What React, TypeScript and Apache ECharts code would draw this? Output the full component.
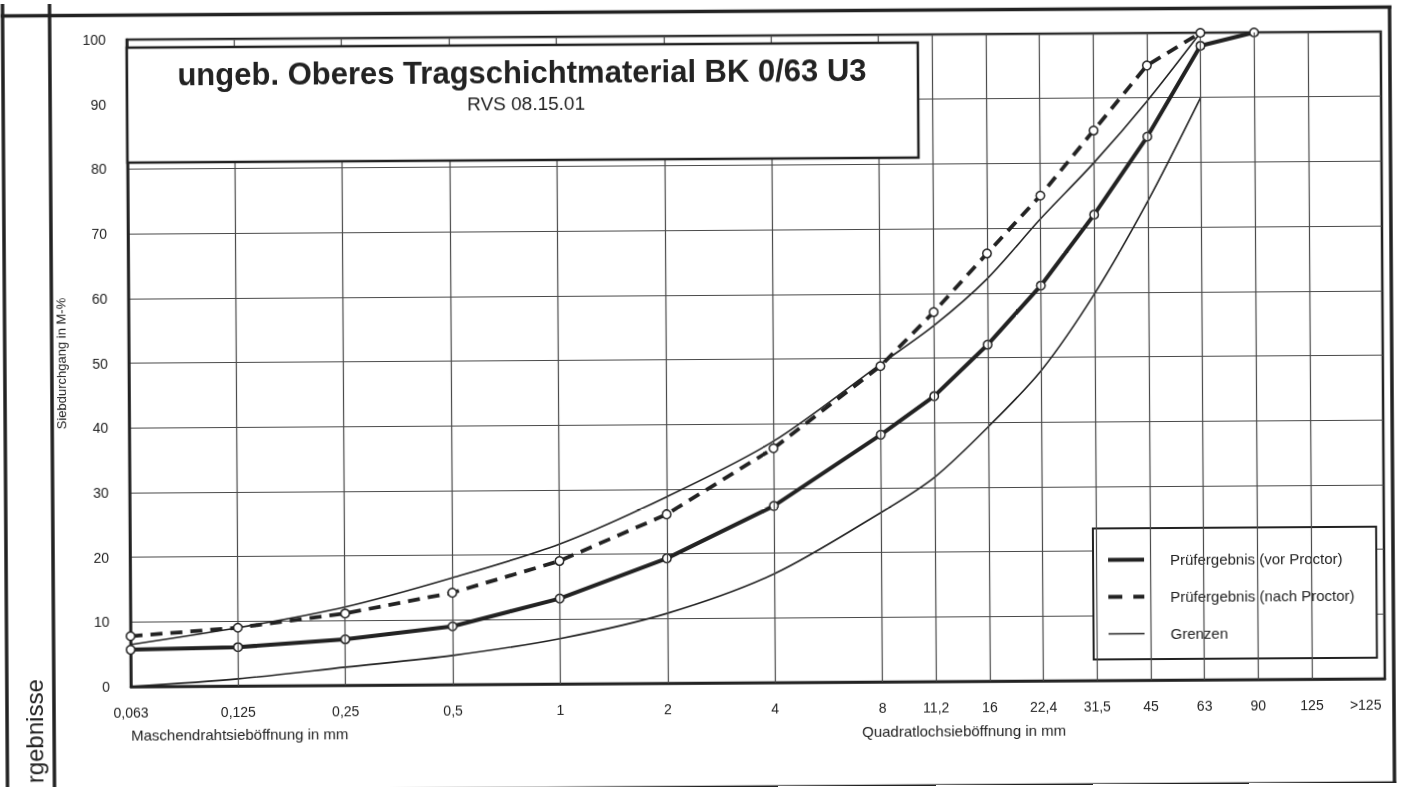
import React, { useEffect, useRef } from "react";
import * as echarts from "echarts";

const FONT = "'Liberation Sans', Arial, Helvetica, sans-serif";
const INK = "#222222";
const GRIDC = "#4a4a4a";

// Sieve sizes (tick labels) and their positions on the log2-like sieve axis
const tickLabels = ["0,063", "0,125", "0,25", "0,5", "1", "2", "4", "8", "11,2", "16", "22,4", "31,5", "45", "63", "90", "125", ">125"];
const tickPositions = [0, 1, 2, 3, 4, 5, 6, 7, 7.5, 8, 8.5, 9, 9.5, 10, 10.5, 11, 11.5];
const gridLinePositions = [1, 2, 3, 4, 5, 6, 7, 7.5, 8, 8.5, 9, 9.5, 10, 10.5, 11];
const axisMax = 11.68;

// Siebdurchgang in M-% at the sieves 0,063 ... (in order of tickLabels)
const vorProctor = [5.7, 6.0, 7.1, 9.0, 13.2, 19.3, 27.3, 38.2, 44.1, 52.0, 61.1, 72.0, 84.0, 98.0, 100];
const nachProctor = [7.8, 9.0, 11.1, 14.2, 19.0, 26.1, 36.2, 48.8, 57.1, 66.1, 75.0, 85.0, 95.0, 100];
const upperLimit = [6.5, 9.0, 12.1, 16.5, 21.6, 28.8, 37.3, 49.1, 55.0, 62.2, 71.4, 80.0, 89.5, 100];
const lowerLimit = [0, 1.1, 2.8, 4.5, 7.0, 10.8, 16.8, 26.2, 31.6, 39.3, 48.0, 59.8, 74.0, 90.0];

const NAME_VOR = "Prüfergebnis (vor Proctor)";
const NAME_NACH = "Prüfergebnis (nach Proctor)";
const NAME_GRENZEN = "Grenzen";

const pairs = (vals: number[]) => vals.map((v, i) => [tickPositions[i], v]);
const labelFor = (v: number) => {
  const i = tickPositions.findIndex((p) => Math.abs(p - v) < 1e-6);
  return i >= 0 ? tickLabels[i] : "";
};

const markerStyle = { color: "#ffffff", borderColor: INK, borderWidth: 1.5 };

const txt = (text: string, x: number, y: number, fontSize: number, align: string, extra: any = {}) => ({
  type: "text",
  z: 61,
  x,
  y,
  ...extra,
  style: {
    text,
    fontSize,
    fontFamily: FONT,
    fill: INK,
    align,
    verticalAlign: "middle",
    textAlign: align,
    textVerticalAlign: "middle",
    ...(extra.style || {}),
  },
});

const option: any = {
  animation: false,
  backgroundColor: "#ffffff",
  textStyle: { fontFamily: FONT },
  grid: {
    left: 129,
    right: 18,
    top: 36,
    bottom: 104,
    show: true,
    borderColor: INK,
    borderWidth: 2.5,
  },
  xAxis: {
    type: "value",
    min: 0,
    max: axisMax,
    interval: 0.5,
    axisLine: { show: true, lineStyle: { color: INK, width: 2.5 } },
    axisTick: { show: false },
    splitLine: { show: false },
    axisLabel: {
      formatter: (v: number) => labelFor(v),
      fontSize: 14,
      color: INK,
      margin: 19,
      fontFamily: FONT,
      hideOverlap: false,
    },
  },
  yAxis: {
    type: "value",
    min: 0,
    max: 100,
    interval: 10,
    name: "Siebdurchgang in M-%",
    nameLocation: "middle",
    nameGap: 61,
    nameTextStyle: { fontSize: 13, color: INK, fontFamily: FONT },
    axisLine: { show: true, lineStyle: { color: INK, width: 2.5 } },
    axisTick: { show: false },
    splitLine: { show: true, lineStyle: { color: GRIDC, width: 1.2 } },
    axisLabel: { fontSize: 14, color: INK, margin: 21, fontFamily: FONT },
  },
  legend: {
    orient: "vertical",
    left: 1092,
    top: 531,
    padding: [24, 22, 18, 15],
    backgroundColor: "#ffffff",
    borderColor: INK,
    borderWidth: 2,
    borderRadius: 0,
    itemWidth: 36,
    itemHeight: 14,
    itemGap: 22,
    selectedMode: false,
    itemStyle: { color: INK, borderWidth: 0 },
    textStyle: { fontSize: 15, color: INK, fontFamily: FONT, padding: [0, 0, 0, 21] },
    data: [
      { name: NAME_VOR, icon: "path://M0,0h36v4h-36z" },
      { name: NAME_NACH, icon: "path://M0,0h14v4h-14zM25,0h11v4h-11z" },
      { name: NAME_GRENZEN, icon: "path://M0,0h36v1.6h-36z" },
    ],
  },
  graphic: [
    // page frame
    { type: "line", z: 50, shape: { x1: 0, y1: -2, x2: 1401, y2: -2 }, style: { stroke: INK, lineWidth: 4 } },
    { type: "line", z: 50, shape: { x1: 3, y1: 11.5, x2: 1394, y2: 11.5 }, style: { stroke: INK, lineWidth: 3.5 } },
    { type: "line", z: 50, shape: { x1: 5, y1: -10, x2: 5, y2: 800 }, style: { stroke: INK, lineWidth: 3.5 } },
    { type: "line", z: 50, shape: { x1: 52, y1: -10, x2: 52, y2: 800 }, style: { stroke: INK, lineWidth: 3.5 } },
    { type: "line", z: 50, shape: { x1: 1392, y1: 10, x2: 1392, y2: 790 }, style: { stroke: INK, lineWidth: 3.5 } },
    { type: "line", z: 50, shape: { x1: 3, y1: 787.5, x2: 1394, y2: 787.5 }, style: { stroke: INK, lineWidth: 3.5 } },
    txt("rgebnisse", 32, 675, 24, "right", { rotation: Math.PI / 2 }),
    // title box
    {
      type: "rect",
      z: 60,
      shape: { x: 129, y: 44, width: 791, height: 115 },
      style: { fill: "#ffffff", stroke: INK, lineWidth: 2.5 },
    },
    txt("ungeb. Oberes Tragschichtmaterial BK 0/63 U3", 524, 71, 31, "center", { style: { fontWeight: "bold" } }),
    txt("RVS 08.15.01", 528, 102, 19, "center"),
    // axis names
    txt("Maschendrahtsieböffnung in mm", 129, 731, 15, "left"),
    txt("Quadratlochsieböffnung in mm", 860, 732, 15, "left"),
  ],
  series: [
    {
      // vertical sieve grid lines
      type: "line",
      z: 1,
      data: [[0, 0]],
      symbol: "none",
      lineStyle: { opacity: 0 },
      silent: true,
      markLine: {
        silent: true,
        symbol: ["none", "none"],
        label: { show: false },
        lineStyle: { color: GRIDC, width: 1.2, type: "solid" },
        data: gridLinePositions.map((p) => ({ xAxis: p })),
      },
    },
    {
      name: NAME_GRENZEN,
      type: "line",
      z: 3,
      data: pairs(upperLimit),
      smooth: 0.3,
      symbol: "none",
      lineStyle: { color: INK, width: 1.6 },
      itemStyle: { color: INK },
    },
    {
      name: NAME_GRENZEN,
      type: "line",
      z: 3,
      data: pairs(lowerLimit),
      smooth: 0.3,
      symbol: "none",
      lineStyle: { color: INK, width: 1.6 },
      itemStyle: { color: INK },
    },
    {
      name: NAME_VOR,
      type: "line",
      z: 4,
      data: pairs(vorProctor),
      symbol: "circle",
      symbolSize: 8.5,
      showAllSymbol: true,
      lineStyle: { color: INK, width: 4 },
      itemStyle: markerStyle,
    },
    {
      name: NAME_NACH,
      type: "line",
      z: 5,
      data: pairs(nachProctor),
      symbol: "circle",
      symbolSize: 8.5,
      showAllSymbol: true,
      lineStyle: { color: INK, width: 3.8, type: [12, 8] },
      itemStyle: markerStyle,
    },
  ],
};

export default function App() {
  const ref = useRef<HTMLDivElement>(null);
  useEffect(() => {
    if (!ref.current) return;
    const chart = echarts.init(ref.current, null, { renderer: "svg" });
    chart.setOption(option);
    return () => chart.dispose();
  }, []);
  return (
    <div
      ref={ref}
      style={{
        position: "fixed",
        left: 0,
        top: 0,
        width: 1401,
        height: 787,
        background: "#ffffff",
        transform: "rotate(-0.366deg)",
        transformOrigin: "50% 50%",
      }}
    />
  );
}
